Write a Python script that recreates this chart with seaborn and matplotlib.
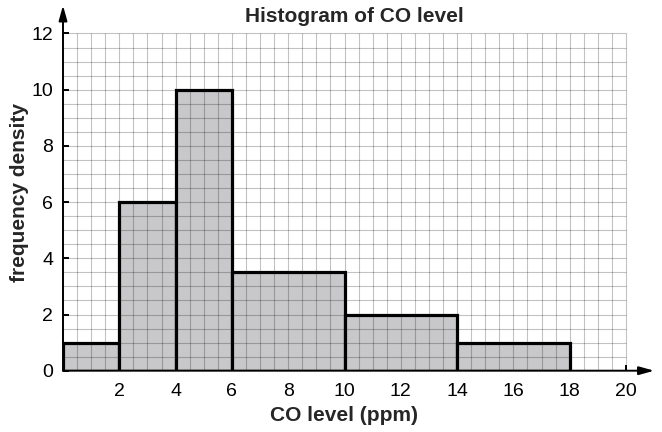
import numpy as np
import matplotlib
matplotlib.use("Agg")
import matplotlib.pyplot as plt
import seaborn as sns

# ---- data ----
bin_edges = [0, 2, 4, 6, 10, 14, 18]
freq_density = [1, 6, 10, 3.5, 2, 1]
x_ticks = [2, 4, 6, 8, 10, 12, 14, 16, 18, 20]
y_ticks = [0, 2, 4, 6, 8, 10, 12]
title = "Histogram of CO level"
x_label = "CO level (ppm)"
y_label = "frequency density"

sns.set_style("white")
plt.rcParams["font.family"] = ["Liberation Sans", "DejaVu Sans"]

fig = plt.figure(figsize=(6.62, 4.32), dpi=100)
ax = fig.add_axes([63 / 662, 61.3 / 432, 21 * 28.15 / 662, 13 * 28.1 / 432])

sns.histplot(x=bin_edges[:-1], weights=freq_density, bins=bin_edges, stat="count",
             color="#c8c8ca", alpha=1, edgecolor="black", linewidth=2.3, ax=ax, zorder=3)

ax.set_xlim(0, 21)
ax.set_ylim(0, 13)

# graph-paper grid
ax.vlines(np.arange(0, 20.01, 0.5), 0, 12, colors="k", alpha=0.24, lw=0.8, zorder=4)
ax.hlines(np.arange(0, 12.01, 0.5), 0, 20, colors="k", alpha=0.24, lw=0.8, zorder=4)

for s in ax.spines.values():
    s.set_visible(False)

arrow = dict(arrowstyle="-|>,head_length=0.9,head_width=0.25", lw=1.4, color="k",
             shrinkA=0, shrinkB=0)
ax.annotate("", xy=(21, 0), xytext=(0, 0), arrowprops=arrow, annotation_clip=False,
            zorder=6)
ax.annotate("", xy=(0, 13), xytext=(0, 0), arrowprops=arrow, annotation_clip=False,
            zorder=6)

ax.set_xticks(x_ticks)
ax.set_yticks(y_ticks)
ax.set_xticklabels([str(t) for t in x_ticks])
ax.set_yticklabels([str(t) for t in y_ticks])
ax.tick_params(axis="x", direction="in", length=4, width=1.4, pad=9, labelsize=14,
               colors="k", bottom=True)
ax.tick_params(axis="y", direction="in", length=4, width=1.4, pad=7, labelsize=14,
               colors="k", left=True)
ax.set_xlabel("")
ax.set_ylabel("")

fig.text(354 / 662, (432 - 22.5) / 432, title, ha="center", va="baseline",
         fontsize=15, fontweight="bold")
fig.text(344.5 / 662, (432 - 420.7) / 432, x_label, ha="center", va="baseline",
         fontsize=15, fontweight="bold")
fig.text(19.5 / 662, (432 - 192) / 432, y_label, ha="center", va="center",
         rotation=90, fontsize=15, fontweight="bold")

fig.savefig("out.png", dpi=100)
